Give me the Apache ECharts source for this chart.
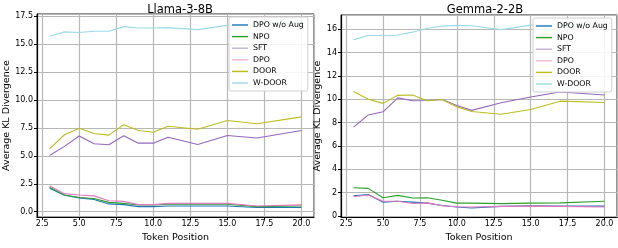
<!DOCTYPE html>
<html>
<head>
<meta charset="utf-8">
<script src="https://cdn.jsdelivr.net/npm/echarts@6/dist/echarts.min.js"></script>
<style>
  html, body { margin: 0; padding: 0; background: #fff; }
  #chart { width: 618px; height: 248px; }
</style>
</head>
<body>
<div id="chart"></div>
<script>
// token positions (shared by both panels)
var positions = [3, 4, 5, 6, 7, 8, 9, 10, 11, 13, 15, 17, 20];
var seriesNames = ['DPO w/o Aug', 'NPO', 'SFT', 'DPO', 'DOOR', 'W-DOOR'];

// Llama-3-8B
var llamaDpoNoAug = [2.11, 1.48, 1.24, 1.10, 0.70, 0.64, 0.46, 0.46, 0.52, 0.52, 0.52, 0.38, 0.38];
var llamaNpo      = [2.20, 1.50, 1.27, 1.19, 0.84, 0.75, 0.61, 0.60, 0.67, 0.67, 0.67, 0.46, 0.52];
var llamaSft      = [5.04, 5.85, 6.78, 6.08, 6.00, 6.81, 6.14, 6.14, 6.66, 6.02, 6.83, 6.60, 7.27];
var llamaDpo      = [2.32, 1.62, 1.50, 1.42, 0.98, 0.93, 0.64, 0.64, 0.75, 0.75, 0.75, 0.52, 0.61];
var llamaDoor     = [5.62, 6.89, 7.47, 7.01, 6.86, 7.79, 7.27, 7.12, 7.65, 7.38, 8.17, 7.88, 8.49];
var llamaWDoor    = [15.70, 16.10, 16.04, 16.16, 16.16, 16.57, 16.45, 16.45, 16.48, 16.30, 16.68, 16.80, 16.87];

// Gemma-2-2B
var gemmaDpoNoAug = [1.74, 1.85, 1.19, 1.27, 1.19, 1.11, 0.91, 0.77, 0.69, 0.83, 0.88, 0.85, 0.85];
var gemmaNpo      = [2.43, 2.37, 1.57, 1.77, 1.55, 1.57, 1.36, 1.11, 1.11, 1.06, 1.11, 1.13, 1.27];
var gemmaSft      = [7.61, 8.66, 8.93, 10.12, 9.87, 9.90, 9.98, 9.46, 9.05, 9.71, 10.20, 10.62, 10.37];
var gemmaDpo      = [1.65, 1.80, 1.27, 1.27, 1.08, 1.13, 0.88, 0.80, 0.77, 0.83, 0.85, 0.83, 0.77];
var gemmaDoor     = [10.67, 10.01, 9.65, 10.34, 10.37, 9.87, 9.98, 9.35, 8.96, 8.72, 9.13, 9.84, 9.73];
var gemmaWDoor    = [15.11, 15.47, 15.47, 15.50, 15.75, 16.08, 16.27, 16.33, 16.30, 15.97, 16.35, 16.40, 16.45];

var lineColors   = ['#1f77b4', '#2ca02c', '#9467bd', '#e377c2', '#bcbd22', '#9edae5'];
var legendColors = ['#1f77b4', '#2ca02c', '#c5b0d5', '#f7b6d2', '#bcbd22', '#9edae5'];

var font = 'DejaVu Sans';
var chart = echarts.init(document.getElementById('chart'));

function pairs(ys) {
    return positions.map(function (x, i) { return [x, ys[i]]; });
}

function xAxisFor(idx) {
    return {
        type: 'value', gridIndex: idx,
        min: 2.15, max: 20.85, minInterval: 2.5, maxInterval: 2.5,
        name: 'Token Position', nameLocation: 'middle', nameGap: 13,
        nameTextStyle: { fontFamily: font, fontSize: 9.5, color: '#000' },
        axisLine: { show: true, onZero: false, lineStyle: { color: '#000', width: 1.2 } },
        axisTick: { show: true, length: 3, lineStyle: { color: '#000' } },
        axisLabel: {
            fontFamily: font, fontSize: 8, color: '#000', margin: 3,
            showMinLabel: false, showMaxLabel: false,
            formatter: function (v) { return v.toFixed(1); }
        },
        splitLine: { show: true, lineStyle: { color: '#b8b8b8', width: 1.2 } }
    };
}

function yAxisFor(idx, min, max, step, digits) {
    return {
        type: 'value', gridIndex: idx,
        min: min, max: max, minInterval: step, maxInterval: step,
        name: 'Average KL Divergence', nameLocation: 'middle', nameGap: idx === 0 ? 22 : 15,
        nameTextStyle: { fontFamily: font, fontSize: 9.5, color: '#000' },
        axisLine: { show: true, onZero: false, lineStyle: { color: '#000', width: 1.2 } },
        axisTick: { show: true, length: 3, lineStyle: { color: '#000' } },
        axisLabel: {
            fontFamily: font, fontSize: 8, color: '#000', margin: 4,
            showMinLabel: false, showMaxLabel: false,
            formatter: function (v) { return v.toFixed(digits); }
        },
        splitLine: { show: true, lineStyle: { color: '#b8b8b8', width: 1.2 } }
    };
}

function legendFor(left, top) {
    return {
        orient: 'vertical', left: left, top: top,
        backgroundColor: 'rgba(255,255,255,0.85)',
        borderColor: '#d0d0d0', borderWidth: 1, borderRadius: 2,
        padding: [4, 4, 4, 3],
        itemWidth: 16, itemHeight: 8, itemGap: 3.6,
        textStyle: { fontFamily: font, fontSize: 7.8, color: '#000' },
        icon: 'path://M0,4 L16,4 L16,5.4 L0,5.4 Z',
        data: seriesNames.map(function (n, i) {
            return { name: n, itemStyle: { color: legendColors[i] } };
        })
    };
}

var llamaData = [llamaDpoNoAug, llamaNpo, llamaSft, llamaDpo, llamaDoor, llamaWDoor];
var gemmaData = [gemmaDpoNoAug, gemmaNpo, gemmaSft, gemmaDpo, gemmaDoor, gemmaWDoor];

var series = [];
[llamaData, gemmaData].forEach(function (panel, p) {
    panel.forEach(function (ys, i) {
        series.push({
            name: seriesNames[i], type: 'line',
            xAxisIndex: p, yAxisIndex: p,
            data: pairs(ys),
            symbol: 'none', smooth: false,
            lineStyle: { color: lineColors[i], width: 1.1 },
            itemStyle: { color: lineColors[i] },
            z: 3
        });
    });
});

var option = {
    animation: false,
    title: [
        { text: 'Llama-3-8B', left: 175, top: -1, textAlign: 'center',
          textStyle: { fontFamily: font, fontSize: 11.5, fontWeight: 'normal', color: '#000' } },
        { text: 'Gemma-2-2B', left: 480, top: -1, textAlign: 'center',
          textStyle: { fontFamily: font, fontSize: 11.5, fontWeight: 'normal', color: '#000' } }
    ],
    grid: [
        { left: 37, right: 304, top: 14, bottom: 25, show: true, borderColor: '#222', borderWidth: 1 },
        { left: 341, right: 1, top: 15, bottom: 24, show: true, borderColor: '#222', borderWidth: 1 }
    ],
    legend: [legendFor(229, 17), legendFor(533, 18)],
    xAxis: [xAxisFor(0), xAxisFor(1)],
    yAxis: [yAxisFor(0, -0.48, 17.7, 2.5, 1), yAxisFor(1, -0.09, 17.22, 2, 0)],
    series: series
};
chart.setOption(option);
</script>
</body>
</html>
